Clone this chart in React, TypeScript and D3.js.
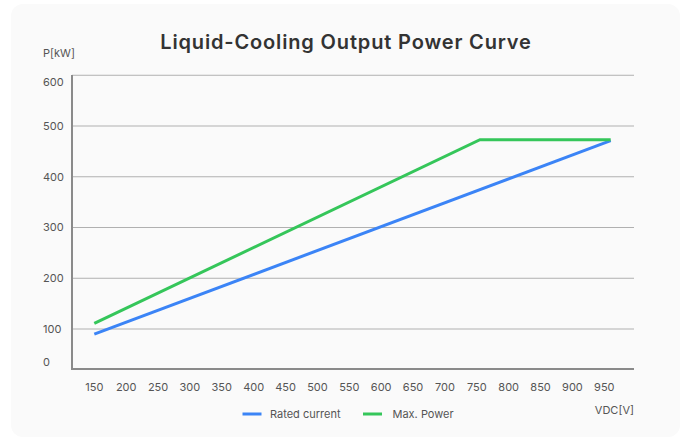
import React from "react";
import * as d3 from "d3";

const yTicks = [0, 100, 200, 300, 400, 500, 600];
const xTicks = [150, 200, 250, 300, 350, 400, 450, 500, 550, 600, 650, 700, 750, 800, 850, 900, 950];

const ratedVoltage = [150, 960];
const ratedPower = [90, 471];

const maxVoltage = [150, 755, 960];
const maxPower = [111, 473, 473];

const title = "Liquid-Cooling Output Power Curve";
const seriesNames = ["Rated current", "Max. Power"];
const colors = ["#3b84f6", "#35c65a"];

export default function App() {
  const W = 685, H = 439;
  const left = 72, right = 634, top = 75, bottom = 369;
  const x = d3.scaleLinear().domain([150, 950]).range([94.3, 604.3]);
  const y = d3.scaleLinear().domain([100, 500]).range([329, 126]);
  const line = d3.line<[number, number]>().x(d => x(d[0])).y(d => y(d[1]));
  const rated: [number, number][] = ratedVoltage.map((v, i) => [v, ratedPower[i]]);
  const maxp: [number, number][] = maxVoltage.map((v, i) => [v, maxPower[i]]);
  const font = "Inter, 'Noto Sans', sans-serif";
  return (
    <div style={{ position: "fixed", left: 0, top: 0, width: W, height: H, background: "#fff" }}>
      <svg width={W} height={H} style={{ display: "block" }} fontFamily={font}>
        <rect x={11} y={4} width={669} height={433} rx={12} fill="#fafafa" />
        <text x={346} y={48.5} textAnchor="middle" fontSize={20} fontWeight={600} letterSpacing={0.85} fill="#333">{title}</text>
        <text x={43} y={57} fontSize={11} fill="#555">P[kW]</text>
        {yTicks.filter(t => t > 0).map(t => (
          <line key={t} x1={left} x2={right} y1={y(t)} y2={y(t)} stroke="#b0b0b0" strokeWidth={1} />
        ))}
        {yTicks.map(t => (
          <text key={t} x={43} y={Math.min(Math.max(y(t), 82), 362)} dy="0.35em" fontSize={11} fill="#555">{t}</text>
        ))}
        <line x1={left} x2={left} y1={top} y2={bottom} stroke="#8a8a8a" strokeWidth={2} />
        <line x1={left - 1} x2={right} y1={bottom} y2={bottom} stroke="#8a8a8a" strokeWidth={2} />
        {xTicks.map(t => (
          <text key={t} x={x(t)} y={387} dy="0.35em" textAnchor="middle" fontSize={11} fill="#555">{t}</text>
        ))}
        <path d={line(rated) || ""} fill="none" stroke={colors[0]} strokeWidth={3} />
        <path d={line(maxp) || ""} fill="none" stroke={colors[1]} strokeWidth={3} />
        <text x={634} y={414} textAnchor="end" fontSize={11} fill="#555">VDC[V]</text>
        <line x1={242.5} x2={261.5} y1={414} y2={414} stroke={colors[0]} strokeWidth={3} />
        <text x={270} y={414} dy="0.35em" fontSize={11} fill="#555">{seriesNames[0]}</text>
        <line x1={363} x2={382} y1={414} y2={414} stroke={colors[1]} strokeWidth={3} />
        <text x={392.5} y={414} dy="0.35em" fontSize={11} fill="#555">{seriesNames[1]}</text>
      </svg>
    </div>
  );
}
